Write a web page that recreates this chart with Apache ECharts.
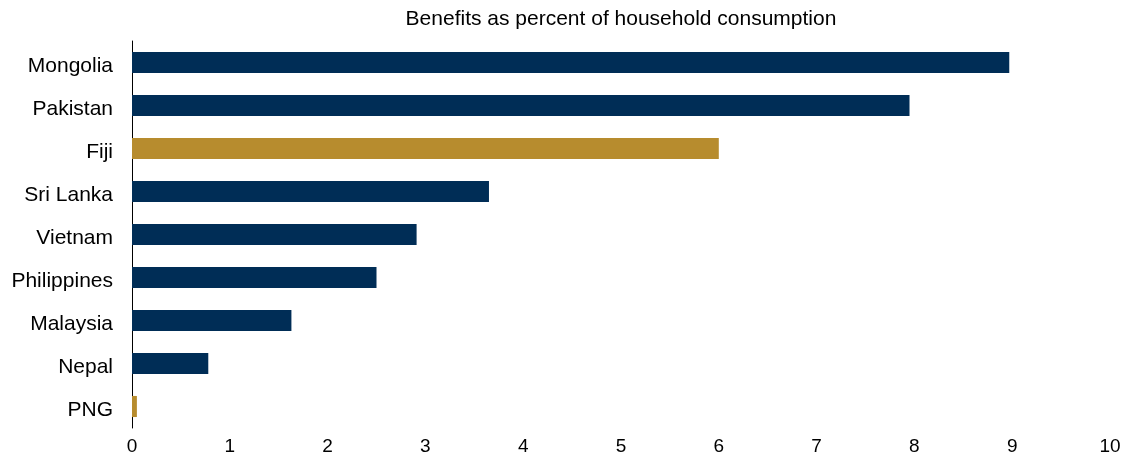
<!DOCTYPE html>
<html><head><meta charset="utf-8">
<script src="https://cdn.jsdelivr.net/npm/echarts@6/dist/echarts.min.js"></script>
<style>html,body{margin:0;padding:0;background:#fff}#c{width:1128px;height:459px}</style>
</head><body><div id="c"></div>
<script>
const categories = ["Mongolia","Pakistan","Fiji","Sri Lanka","Vietnam","Philippines","Malaysia","Nepal","PNG"];
const values = [8.97, 7.95, 6.0, 3.65, 2.91, 2.5, 1.63, 0.78, 0.05];
const highlighted = ["Fiji","PNG"];
const tickValues = [0,1,2,3,4,5,6,7,8,9,10];
const titleText = "Benefits as percent of household consumption";

const chart = echarts.init(document.getElementById('c'));
chart.setOption({
  animation:false,
  title:{text:titleText,left:616,top:4,textAlign:'center',textStyle:{fontFamily:'Liberation Sans, Arial',fontSize:21,fontWeight:'normal',color:'#000'}},
  grid:{left:132,right:18,top:41,bottom:31,containLabel:false},
  xAxis:{type:'value',min:0,max:10,interval:1,
    axisLine:{show:false},axisTick:{show:false},splitLine:{show:false},
    axisLabel:{fontFamily:'Liberation Sans, Arial',fontSize:19,color:'#000',margin:9}},
  yAxis:{type:'category',inverse:true,data:categories,
    axisLine:{show:true,lineStyle:{color:'#000',width:1}},axisTick:{show:false},
    axisLabel:{margin:19,formatter:'{a|{value}}',
      rich:{a:{fontFamily:'Liberation Sans, Arial',fontSize:21,color:'#000',padding:[7,0,0,0]}}}},
  series:[{type:'bar',barCategoryGap:'51%',
    data:values.map((v,i)=>({value:v,itemStyle:{color:highlighted.includes(categories[i])?'#B78C2E':'#002D56'}}))}]
});
</script></body></html>
